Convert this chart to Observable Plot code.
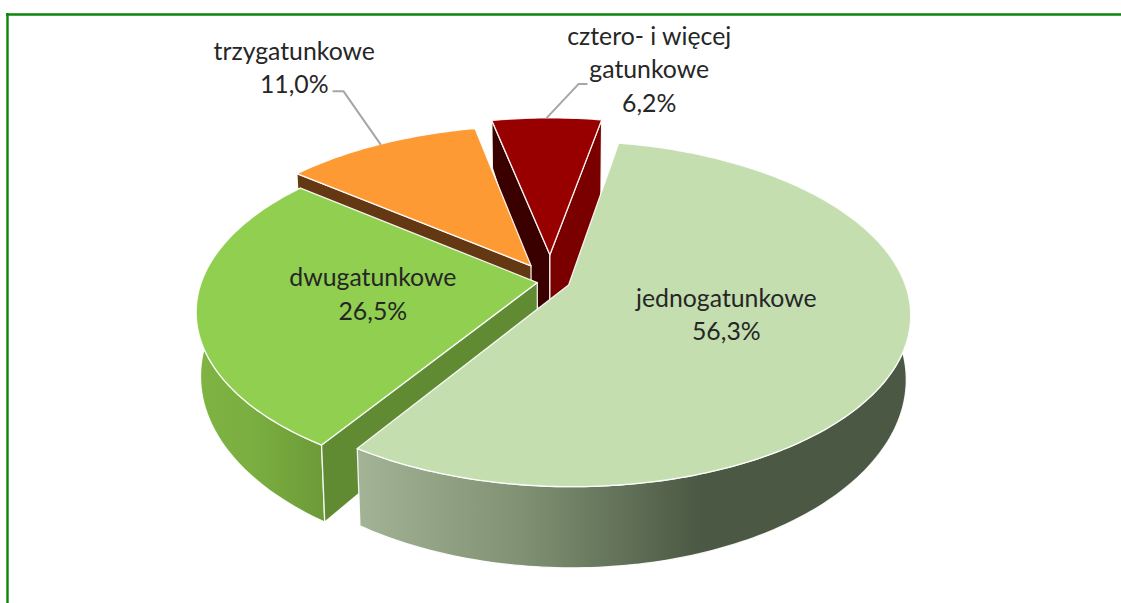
<!DOCTYPE html>
<html>
<head>
<meta charset="utf-8">
<script src="https://cdn.jsdelivr.net/npm/d3@7"></script>
<script src="https://cdn.jsdelivr.net/npm/@observablehq/plot@0.6"></script>
<style>html,body{margin:0;padding:0;background:#fff}svg{display:block}</style>
</head>
<body>
<div id="chart"></div>
<script>
// ---- data ----
const categories = ["jednogatunkowe", "dwugatunkowe", "trzygatunkowe", "cztero- i więcej\ngatunkowe"];
const shares = [56.3, 26.5, 11.0, 6.2];

// ---- layout of the 3D pie (not data) ----
const explode = [0.058, 0.04, 0.113, 0.165];
const radius = [1.005, 1.005, 1.012, 1.012];
const startAngle = 10.5;
const view = {x0: 550, y0: 281, s: 334, sc: 166, k: 0.165, depth: 60, mx: 0.012, my: -0.026};
const labelPolar = [[112, 0.5], [262, 0.5], [328.7, 1.93], [13.1, 1.65]];
const labelNudge = [[-4, -5], [4, -2], [7, -0.5], [0, -3]];
const colors = {
  top: ["#c4deb0", "#90cf50", "#fe9a33", "#980000"],
  greenCut: "#618b33", brown: "#643813", redLeft: "#3a0000", redRight: "#7a0000"
};

const rad = d => d * Math.PI / 180;
function project(X, Y, H) {
  const w = 1 - view.k * Y;
  return {
    x: view.x0 + view.s * X / (w + H * view.mx),
    y: view.y0 + (view.sc * Y + H * view.depth) / (w + H * view.my)
  };
}
let acc = startAngle;
const slices = shares.map((v, i) => {
  const a0 = acc, a1 = acc + v / 100 * 360;
  acc = a1;
  const mid = (a0 + a1) / 2, e = explode[i], R = radius[i];
  const ox = e * Math.sin(rad(mid)), oy = -e * Math.cos(rad(mid));
  const pt = (a, r, H) => project(ox + R * r * Math.sin(rad(a)), oy - R * r * Math.cos(rad(a)), H);
  return {i, a0, a1, mid, pt, name: categories[i], value: v};
});
function arc(sl, a0, a1, H) {
  const n = Math.max(2, Math.ceil(Math.abs(a1 - a0)));
  return d3.range(n + 1).map(j => sl.pt(a0 + (a1 - a0) * j / n, 1, H));
}
const topFace = sl => [sl.pt(sl.a0, 0, 0), ...arc(sl, sl.a0, sl.a1, 0)];
const outerFace = sl => [...arc(sl, sl.a0, sl.a1, 0), ...arc(sl, sl.a1, sl.a0, 1)];
const cutFace = (sl, a, Hin = 1, Hout = 1) => [sl.pt(a, 0, 0), sl.pt(a, 1, 0), sl.pt(a, 1, Hout), sl.pt(a, 0, Hin)];

const face = (pts, fill, sw = 1.3) => Plot.line(pts, {
  x: "x", y: "y", fill, stroke: "white", strokeWidth: sw, strokeOpacity: 0.9,
  curve: "linear-closed"
});

const defs = () => {
  const d = d3.create("svg:defs");
  const grad = (id, stops) => {
    const g = d.append("linearGradient").attr("id", id).attr("x1", 0).attr("x2", 1).attr("y1", 0).attr("y2", 0);
    stops.forEach(([o, c]) => g.append("stop").attr("offset", o).attr("stop-color", c));
  };
  grad("sideMain", [[0, "#a3b496"], [0.3, "#7f9172"], [0.62, "#4b5844"], [1, "#4b5844"]]);
  grad("sideGreen", [[0, "#7fb444"], [0.45, "#7aae40"], [1, "#6c9a38"]]);
  return d.node();
};

// leader lines: from the slice's arc to an elbow beside its label
const [main, green, orange, red] = slices;
const orangeTip = orange.pt(orange.mid, 1, 0), redTip = red.pt(red.mid, 1, 0);
const leaderOrange = [orangeTip, {x: orangeTip.x - 37, y: orangeTip.y - 53}, {x: orangeTip.x - 47, y: orangeTip.y - 53}];
const leaderRed = [redTip, {x: redTip.x + 32, y: redTip.y - 34}, {x: redTip.x + 40, y: redTip.y - 34}];

const labels = slices.map((sl, i) => {
  const [a, r] = labelPolar[i];
  const p = sl.i < 2 ? sl.pt(a, r, 0) : project(r * Math.sin(rad(a)), -r * Math.cos(rad(a)), 0);
  return {x: p.x + labelNudge[i][0], y: p.y + labelNudge[i][1], text: `${sl.name}\n${sl.value.toFixed(1).replace(".", ",")}%`};
});

const plot = Plot.plot({
  width: 1121, height: 603,
  marginTop: 0, marginRight: 0, marginBottom: 0, marginLeft: 0,
  x: {domain: [0, 1121], range: [0, 1121], axis: null},
  y: {domain: [0, 603], range: [0, 603], axis: null},
  style: {background: "white"},
  marks: [
    defs,
    Plot.ruleY([14], {x1: 6, x2: 1121, stroke: "#0b860b", strokeWidth: 2.4}),
    Plot.ruleX([7], {y1: 13, y2: 603, stroke: "#0b860b", strokeWidth: 2.4}),
    // red slice
    face(cutFace(red, red.a0, 1.5, 1), colors.redLeft),
    face(cutFace(red, red.a1, 1.6, 1.6), colors.redRight),
    face(topFace(red), colors.top[3]),
    // orange slice
    face(cutFace(orange, orange.a0), colors.brown),
    face(topFace(orange), colors.top[2]),
    // green slice
    face(outerFace(green), "url(#sideGreen)"),
    face(cutFace(green, green.a0), colors.greenCut),
    face(topFace(green), colors.top[1]),
    // main slice
    face(outerFace(main), "url(#sideMain)"),
    face(topFace(main), colors.top[0]),
    // leaders
    Plot.line(leaderOrange, {x: "x", y: "y", stroke: "#a6a6a6", strokeWidth: 2}),
    Plot.line(leaderRed, {x: "x", y: "y", stroke: "#a6a6a6", strokeWidth: 2}),
    // labels
    Plot.text(labels, {
      x: "x", y: "y", text: "text", textAnchor: "middle", lineHeight: 1.35,
      fontFamily: "Lato", fontSize: 24.8, fill: "#262626"
    })
  ]
});
document.getElementById("chart").append(plot);
</script>
</body>
</html>
